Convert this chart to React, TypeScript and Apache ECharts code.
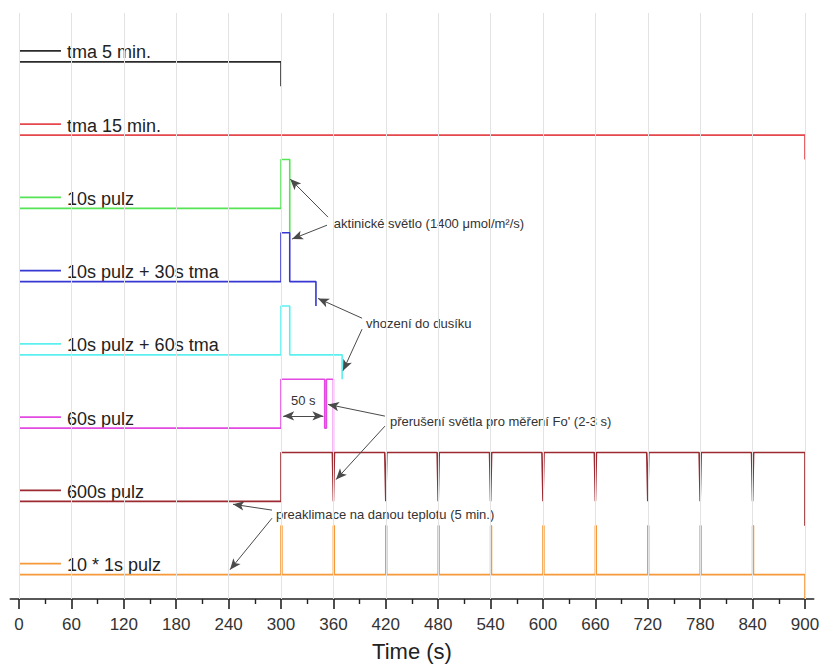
import React, { useEffect, useRef } from "react";
import * as echarts from "echarts";

// ---- data ----
const xTicks = [0, 60, 120, 180, 240, 300, 360, 420, 480, 540, 600, 660, 720, 780, 840, 900];
const minorTicks = [30, 90, 150, 210, 270, 330, 390, 450, 510, 570, 630, 690, 750, 810, 870];

const traceNames = [
  "tma 5 min.",
  "tma 15 min.",
  "10s pulz",
  "10s pulz + 30s tma",
  "10s pulz + 60s tma",
  "60s pulz",
  "600s pulz",
  "10 * 1s pulz",
];
const traceColors = ["#2b2b2b", "#e4474c", "#55e455", "#3737d2", "#5cefef", "#e24ae2", "#9c2a30", "#f5993a"];
const baselines = [21, 18, 15, 12, 9, 6, 3, 0];

// step traces: [time (s), level relative to baseline]
const tma5 = [[0, 0], [300, 0], [300, -1]];
const tma15 = [[0, 0], [900, 0], [900, -1]];
const pulz10 = [[0, 0], [300, 0], [300, 2], [310, 2], [310, -1]];
const pulz10tma30 = [[0, 0], [300, 0], [300, 2], [310, 2], [310, 0], [340, 0], [340, -1]];
const pulz10tma60 = [[0, 0], [300, 0], [300, 2], [310, 2], [310, 0], [370, 0], [370, -1]];
const pulz60 = [[0, 0], [300, 0], [300, 2], [350, 2], [350, 0], [352, 0], [352, 2], [360, 2], [360, -1]];
const interruptTimes = [360, 420, 480, 540, 600, 660, 720, 780, 840];
const flashTimes = [300, 360, 420, 480, 540, 600, 660, 720, 780, 840];

function build600() {
  const pts: number[][] = [[0, 0], [300, 0], [300, 2]];
  for (const t of interruptTimes) {
    pts.push([t - 1.2, 2], [t, 0], [t + 1.2, 2]);
  }
  pts.push([900, 2], [900, -1]);
  return pts;
}
function buildFlashes() {
  const pts: number[][] = [[0, 0]];
  for (const t of flashTimes) {
    pts.push([t, 0], [t, 2], [t + 1, 2], [t + 1, 0]);
  }
  pts.push([900, 0], [900, -1]);
  return pts;
}

const legendLineEnd = 48;
const legendTextX = 55;
const legendLift = 0.45;

// annotation arrows: [x1, y1, x2, y2] in data units (start -> arrow head)
const arrows = [
  [353.8, 14.64, 310.5, 16.2],
  [352.7, 14.31, 312.6, 13.74],
  [392.8, 10.5, 342.4, 11.31],
  [392.8, 10.05, 371, 8.35],
  [419, 6.49, 353.8, 6.97],
  [419, 6.08, 363, 3.89],
  [289.7, 2.64, 245, 2.88],
  [289.7, 2.31, 241.6, 0.2],
];
const doubleArrows = [[302.5, 6.5, 348.5, 6.5]];
const annotationTexts = [
  { text: "aktinické světlo (1400 μmol/m²/s)", x: 360.5, y: 14.39, align: "left" },
  { text: "vhození do dusíku", x: 397.3, y: 10.27, align: "left" },
  { text: "přerušení světla pro měření Fo' (2-3 s)", x: 424.8, y: 6.26, align: "left" },
  { text: "preaklimace na danou teplotu (5 min.)", x: 294.3, y: 2.47, align: "left" },
  { text: "50 s", x: 325.5, y: 7.13, align: "center" },
];

const traces = [tma5, tma15, pulz10, pulz10tma30, pulz10tma60, pulz60, build600(), buildFlashes()];

const FONT = '"Liberation Sans", Arial, Helvetica, sans-serif';

export default function App() {
  const ref = useRef<HTMLDivElement>(null);
  useEffect(() => {
    if (!ref.current) return;
    const chart = echarts.init(ref.current, null, { renderer: "svg" });

    const series: any[] = [];
    // grid lines
    series.push({
      type: "line",
      name: "grid",
      data: [],
      z: 1,
      silent: true,
      markLine: {
        silent: true,
        symbol: ["none", "none"],
        label: { show: false },
        lineStyle: { color: "#e3e3e3", width: 1, type: "solid" },
        emphasis: { disabled: true },
        data: xTicks.map((v) => ({ xAxis: v })),
      },
    });
    traces.forEach((tr, i) => {
      const b = baselines[i];
      series.push({
        type: "line",
        name: traceNames[i],
        data: tr.map((p) => [p[0], p[1] + b]),
        showSymbol: false,
        symbol: "none",
        z: 3,
        lineStyle: { color: traceColors[i], width: 1.6 },
        itemStyle: { color: traceColors[i] },
        silent: true,
      });
      series.push({
        type: "line",
        name: traceNames[i] + " legend",
        data: [[0, b + legendLift], [legendLineEnd, b + legendLift]],
        showSymbol: false,
        symbol: "none",
        z: 3,
        lineStyle: { color: traceColors[i], width: 1.6 },
        silent: true,
      });
    });
    series.push({
      type: "line",
      name: "arrows",
      data: [],
      z: 4,
      silent: true,
      markLine: {
        silent: true,
        symbol: ["none", "arrow"],
        symbolSize: [7, 11],
        label: { show: false },
        lineStyle: { color: "#4a4a4a", width: 1, type: "solid" },
        emphasis: { disabled: true },
        data: arrows.map((a) => [{ coord: [a[0], a[1]] }, { coord: [a[2], a[3]] }]),
      },
    });
    series.push({
      type: "line",
      name: "dblarrows",
      data: [],
      z: 4,
      silent: true,
      markLine: {
        silent: true,
        symbol: ["arrow", "arrow"],
        symbolSize: [7, 11],
        label: { show: false },
        lineStyle: { color: "#4a4a4a", width: 1, type: "solid" },
        emphasis: { disabled: true },
        data: doubleArrows.map((a) => [{ coord: [a[0], a[1]] }, { coord: [a[2], a[3]] }]),
      },
    });

    chart.setOption({
      animation: false,
      backgroundColor: "#ffffff",
      grid: { left: 10.3, right: 9.3, top: 13, bottom: 62 },
      xAxis: [
        {
          type: "value",
          min: -10,
          max: 910,
          position: "bottom",
          name: "Time (s)",
          nameLocation: "middle",
          nameGap: 41,
          nameTextStyle: { fontSize: 22, color: "#222", fontFamily: FONT },
          axisLine: { show: true, onZero: false, lineStyle: { color: "#222", width: 1.6 } },
          axisTick: { show: true, customValues: xTicks, length: 10, lineStyle: { color: "#222", width: 1.6 } },
          axisLabel: { show: true, customValues: xTicks, fontSize: 17, color: "#333", fontFamily: FONT, margin: 17 },
          splitLine: { show: false },
        },
        {
          type: "value",
          min: -10,
          max: 910,
          position: "bottom",
          axisLine: { show: false, onZero: false },
          axisTick: { show: true, customValues: minorTicks, length: 5, lineStyle: { color: "#222", width: 1.4 } },
          axisLabel: { show: false },
          splitLine: { show: false },
        },
      ],
      yAxis: {
        type: "value",
        min: -1,
        max: 23,
        show: false,
        splitLine: { show: false },
      },
      series,
    });

    const px = (x: number, y: number) => chart.convertToPixel({ seriesIndex: 1 }, [x, y]) as number[];
    const graphics: any[] = [];
    traceNames.forEach((n, i) => {
      const p = px(legendTextX, baselines[i] + legendLift);
      graphics.push({
        type: "text",
        x: p[0],
        y: p[1] + 1.5,
        silent: true,
        style: { text: n, font: `18px ${FONT}`, fill: "#222", textAlign: "left", textVerticalAlign: "middle", verticalAlign: "middle" },
      });
    });
    annotationTexts.forEach((a) => {
      const p = px(a.x, a.y);
      graphics.push({
        type: "text",
        x: p[0],
        y: p[1],
        silent: true,
        style: { text: a.text, font: `13px ${FONT}`, fill: "#333", textAlign: a.align, textVerticalAlign: "middle", verticalAlign: "middle" },
      });
    });
    chart.setOption({ graphic: graphics });

    return () => chart.dispose();
  }, []);
  return <div ref={ref} style={{ position: "fixed", left: 0, top: 0, width: 823, height: 667 }} />;
}
